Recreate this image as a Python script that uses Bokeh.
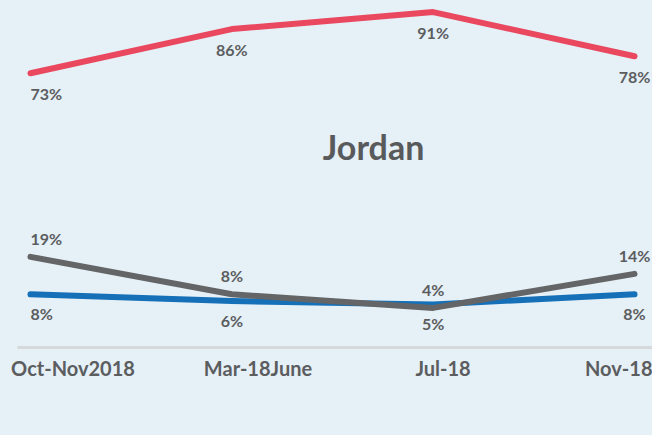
from bokeh.plotting import figure
from bokeh.models import ColumnDataSource, Range1d, LinearAxis, FixedTicker, Label
from bokeh.core.properties import value
from bokeh.embed import file_html
from bokeh.resources import INLINE

# ---- data ----
periods = ["Oct-Nov2018", "Mar-18June", "Jul-18", "Nov-18"]
red_vals = [73, 86, 91, 78]
gray_vals = [19, 8, 4, 14]
blue_vals = [8, 6, 5, 8]
chart_title = "Jordan"

# ---- style ----
BG = "#e5f0f7"
RED = "#e9485f"
GRAY = "#636567"
BLUE = "#1570b8"
TXT = "#5c5d5f"
FONT = "Lato"

idx = list(range(len(periods)))
aligns = ["left"] + ["center"] * (len(periods) - 1)

p = figure(width=652, height=435, output_backend="svg", toolbar_location=None,
           x_range=Range1d(-0.0646, 3.0894), y_range=Range1d(-7.65, 94.41),
           x_axis_location=None, y_axis_location=None,
           min_border_left=17, min_border_right=0, min_border_top=0, min_border_bottom=88)
p.background_fill_color = BG
p.border_fill_color = BG
p.outline_line_color = None
p.grid.visible = False

# axis with the period labels
p.extra_x_ranges = {"lab": Range1d(-0.3, 3.1324)}
ax = LinearAxis(x_range_name="lab", ticker=FixedTicker(ticks=idx),
                major_label_overrides={i: s for i, s in zip(idx, periods)})
ax.axis_line_color = "#d5d9dc"
ax.axis_line_width = 3
ax.major_tick_line_color = None
ax.minor_tick_line_color = None
ax.major_label_text_font = FONT
ax.major_label_text_font_style = "bold"
ax.major_label_text_font_size = "20px"
ax.major_label_text_color = TXT
ax.major_label_standoff = 2
p.add_layout(ax, "below")


def series(vals, color, dy):
    src = ColumnDataSource(dict(x=idx, y=vals, t=[f"{v}%" for v in vals], a=aligns))
    p.line("x", "y", source=src, line_color=color, line_width=6,
           line_cap="round", line_join="round")
    p.text("x", "y", text="t", source=src, text_align="a", text_baseline="middle",
           y_offset=dy, text_font=value(FONT), text_font_style="bold",
           text_font_size="16px", text_color=TXT)


series(red_vals, RED, 20)
series(blue_vals, BLUE, 19.5)
series(gray_vals, GRAY, -18.5)

title = Label(x=1.704, y=51.5, text=chart_title, text_align="center",
              text_baseline="middle", text_font=FONT, text_font_style="bold",
              text_font_size="34px", text_color="#595a5c")
p.add_layout(title)

html = file_html(p, INLINE)
html = html.replace("</head>", "<style>html,body{background-color:%s;}</style></head>" % BG)
open("out.html", "w").write(html)
